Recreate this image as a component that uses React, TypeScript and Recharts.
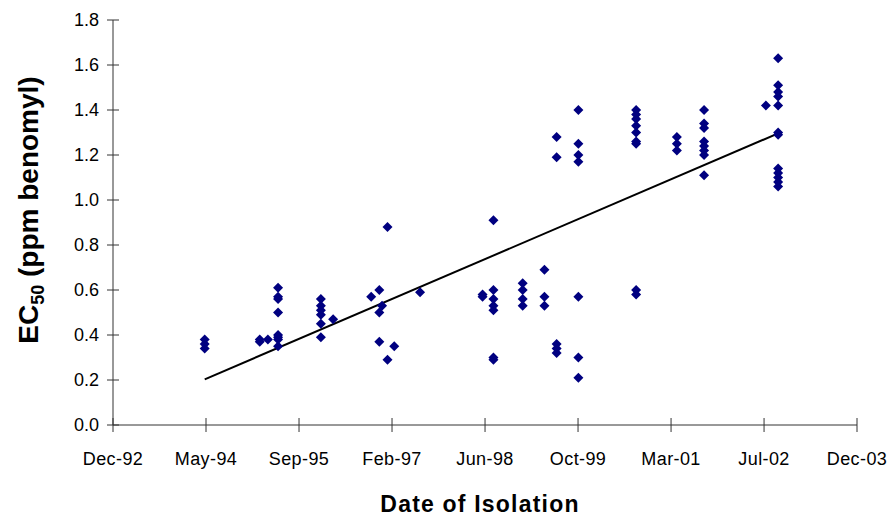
import React from 'react';
import { ScatterChart, Scatter, XAxis, YAxis, ReferenceLine } from 'recharts';

// X axis: dates as decimal years (ticks every 500 days, Excel style)
const xTickValues = [1992.99, 1994.359, 1995.728, 1997.097, 1998.466, 1999.835, 2001.204, 2002.573, 2003.941];
const xTickLabels = ['Dec-92', 'May-94', 'Sep-95', 'Feb-97', 'Jun-98', 'Oct-99', 'Mar-01', 'Jul-02', 'Dec-03'];

const yTickValues = [0, 0.2, 0.4, 0.6, 0.8, 1.0, 1.2, 1.4, 1.6, 1.8];
const yTickLabels = ['0.0', '0.2', '0.4', '0.6', '0.8', '1.0', '1.2', '1.4', '1.6', '1.8'];

// Sampling dates (decimal year) and EC50 values of isolates from each sample
const sampleDates = [
  1994.34, 1995.15, 1995.27, 1995.42, 1996.05, 1996.23, 1996.79, 1996.91, 1996.95, 1997.03,
  1997.13, 1997.51, 1998.43, 1998.59, 1999.02, 1999.34, 1999.52, 1999.84, 2000.69, 2001.29,
  2001.69, 2002.6, 2002.78,
];
const sampleEc50 = [
  [0.38, 0.36, 0.34],
  [0.38, 0.37],
  [0.38],
  [0.61, 0.57, 0.56, 0.5, 0.4, 0.39, 0.38, 0.35],
  [0.56, 0.53, 0.51, 0.49, 0.45, 0.39],
  [0.47],
  [0.57],
  [0.6, 0.5, 0.37],
  [0.53],
  [0.88, 0.29],
  [0.35],
  [0.59],
  [0.58, 0.57],
  [0.91, 0.6, 0.56, 0.53, 0.51, 0.3, 0.29],
  [0.63, 0.6, 0.56, 0.53],
  [0.69, 0.57, 0.53],
  [1.28, 1.19, 0.36, 0.34, 0.32],
  [1.4, 1.25, 1.2, 1.17, 0.57, 0.3, 0.21],
  [1.4, 1.38, 1.36, 1.33, 1.3, 1.26, 1.25, 0.6, 0.58],
  [1.28, 1.25, 1.22],
  [1.4, 1.34, 1.32, 1.26, 1.24, 1.22, 1.2, 1.11],
  [1.42],
  [1.63, 1.51, 1.48, 1.46, 1.42, 1.3, 1.29, 1.14, 1.12, 1.1, 1.08, 1.06],
];

// Linear trend line end points
const trendDates = [1994.34, 2002.78];
const trendValues = [0.203, 1.296];

const points = sampleDates.flatMap((d, i) => sampleEc50[i].map((v) => ({ x: d, y: v })));

const AXIS_COLOR = '#333';
const FONT = '"Liberation Sans", Arial, sans-serif';

const Diamond = (props: any) => {
  const { cx, cy } = props;
  if (cx == null || cy == null) return null;
  const r = 5;
  return (
    <polygon
      points={`${cx},${cy - r} ${cx + r},${cy} ${cx},${cy + r} ${cx - r},${cy}`}
      fill="#000080"
    />
  );
};

const XTick = (props: any) => {
  const { x, y, index } = props;
  return (
    <g>
      <line x1={x} x2={x} y1={y - 7} y2={y + 7} stroke={AXIS_COLOR} strokeWidth={1} />
      <text x={x} y={y + 40} textAnchor="middle" fontSize={18} fontFamily={FONT} letterSpacing={0.4} fill="#000">
        {xTickLabels[index]}
      </text>
    </g>
  );
};

const YTick = (props: any) => {
  const { x, y, index } = props;
  return (
    <g>
      <line x1={x - 6} x2={x + 6} y1={y} y2={y} stroke={AXIS_COLOR} strokeWidth={1} />
      <text x={x - 14} y={y + 6} textAnchor="end" fontSize={18} fontFamily={FONT} fill="#000">
        {yTickLabels[index]}
      </text>
    </g>
  );
};

const YLabel = () => (
  <text
    transform="translate(38, 210) rotate(-90)"
    textAnchor="middle"
    fontSize={28}
    fontWeight="bold"
    fontFamily={FONT}
    fill="#000"
  >
    <tspan>EC</tspan>
    <tspan fontSize={18} dy={6}>50</tspan>
    <tspan dy={-6}> (ppm benomyl)</tspan>
  </text>
);

const XLabel = () => (
  <text
    x={480}
    y={512}
    textAnchor="middle"
    fontSize={23}
    fontWeight="bold"
    fontFamily={FONT}
    letterSpacing={1.2}
    fill="#000"
  >
    Date of Isolation
  </text>
);

export default function App() {
  return (
    <div style={{ width: 887, height: 516 }}>
      <style>{'html,body{margin:0;padding:0;overflow:hidden;background:#fff}'}</style>
      <ScatterChart width={887} height={516} margin={{ top: 20, right: 30, bottom: 0, left: 0 }}>
        <XAxis
          type="number"
          dataKey="x"
          domain={[xTickValues[0], xTickValues[xTickValues.length - 1]]}
          ticks={xTickValues}
          interval={0}
          height={91}
          tickSize={0}
          tickMargin={0}
          tickLine={false}
          tick={<XTick />}
          axisLine={{ stroke: AXIS_COLOR, strokeWidth: 1 }}
          allowDataOverflow
          label={<XLabel />}
        />
        <YAxis
          type="number"
          dataKey="y"
          domain={[0, 1.8]}
          ticks={yTickValues}
          interval={0}
          width={113}
          tickSize={0}
          tickMargin={0}
          tickLine={false}
          tick={<YTick />}
          axisLine={{ stroke: AXIS_COLOR, strokeWidth: 1 }}
          allowDataOverflow
          label={<YLabel />}
        />
        <Scatter data={points} shape={<Diamond />} isAnimationActive={false} />
        <ReferenceLine
          segment={[
            { x: trendDates[0], y: trendValues[0] },
            { x: trendDates[1], y: trendValues[1] },
          ]}
          stroke="#000"
          strokeWidth={2}
        />
      </ScatterChart>
    </div>
  );
}
